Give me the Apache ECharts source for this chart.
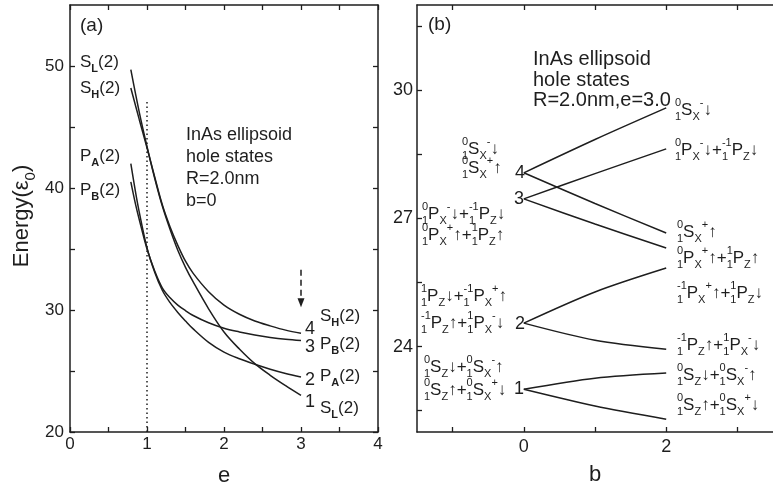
<!DOCTYPE html>
<html><head><meta charset="utf-8">
<script src="https://cdn.jsdelivr.net/npm/echarts@6/dist/echarts.min.js"></script>
<style>html,body{margin:0;padding:0;background:#fff}#c{width:773px;height:495px}</style>
</head><body><div id="c"></div><script>
// ---------- Panel (a): hole energies vs e (b = 0) ----------
const eTicks = [0, 0.5, 1, 1.5, 2, 2.5, 3, 3.5, 4];
const eLabels = [0, 1, 2, 3, 4];
const energyTicksA = [20, 25, 30, 35, 40, 45, 50];
const energyLabelsA = [20, 30, 40, 50];
const curveSL = [[0.79,49.7],[0.9,46.2],[1.0,43.4],[1.1,40.8],[1.2,38.5],[1.3,36.6],[1.4,34.9],[1.5,33.5],[1.6,32.3],[1.8,30.1],[2.0,28.2],[2.2,26.8],[2.4,25.6],[2.6,24.65],[2.8,23.8],[3.0,23.0]];
const curveSH = [[0.79,48.2],[0.9,45.6],[1.0,43.3],[1.1,40.9],[1.2,38.6],[1.3,36.8],[1.4,35.3],[1.5,34.0],[1.6,33.0],[1.8,31.5],[2.0,30.4],[2.2,29.65],[2.4,29.1],[2.6,28.7],[2.8,28.35],[3.0,28.1]];
const curvePA = [[0.79,42.0],[0.85,39.7],[0.9,38.0],[1.0,35.1],[1.1,33.1],[1.2,31.6],[1.3,30.6],[1.4,29.8],[1.5,29.1],[1.6,28.45],[1.8,27.35],[2.0,26.55],[2.2,26.0],[2.4,25.55],[2.6,25.15],[2.8,24.8],[3.0,24.5]];
const curvePB = [[0.79,40.5],[0.85,38.7],[0.9,37.4],[1.0,35.0],[1.1,33.2],[1.2,31.8],[1.3,31.0],[1.4,30.4],[1.5,29.95],[1.6,29.55],[1.8,28.95],[2.0,28.5],[2.2,28.2],[2.4,27.95],[2.6,27.75],[2.8,27.6],[3.0,27.5]];
const dottedE = [[1, 20], [1, 47.2]];
const arrowE = [[3, 33.3], [3, 30.6]];

// ---------- Panel (b): splitting vs b (R=2.0nm, e=3.0) ----------
const bTicks = [-1, 0, 1, 2, 3];
const bLabels = [0, 2];
const energyTicksB = [22.5, 24, 25.5, 27, 28.5, 30, 31.5];
const energyLabelsB = [24, 27, 30];
const bValues = [0, 1, 2];
const level4Up   = [28.07, 28.85, 29.59];
const level4Down = [28.07, 27.35, 26.66];
const level3Up   = [27.46, 28.05, 28.63];
const level3Down = [27.46, 26.87, 26.31];
const level2Up   = [24.55, 25.28, 25.84];
const level2Down = [24.55, 24.15, 23.94];
const level1Up   = [23.0, 23.26, 23.38];
const level1Down = [23.0, 22.61, 22.30];

const INK = '#1e1e1e';
const FAM = '"Liberation Sans", Arial, Helvetica, sans-serif';

// ---------- rich label builder (pre-scripts, sub, sup) ----------
const mctx = document.createElement('canvas').getContext('2d');
function tw(s, size, bold) { mctx.font = (bold ? 'bold ' : '') + size + 'px ' + FAM; return mctx.measureText(s).width; }
function parse(str) {
  const out = []; let i = 0;
  while (i < str.length) {
    const c = str[i];
    if (c === '{') { const j = str.indexOf('}', i); const p = str.slice(i + 1, j).split('|'); out.push({k:'pre', a:p[0], b:p[1]}); i = j + 1; }
    else if (c === '_' || c === '^') { let bold = false; i++; if (str[i] === '!') { bold = true; i++; } out.push({k: c === '_' ? 'sub' : 'sup', t: str[i], bold}); i++; }
    else { let j = i; while (j < str.length && '{_^'.indexOf(str[j]) < 0) j++; out.push({k:'n', t: str.slice(i, j)}); i = j; }
  }
  return out;
}
function richLabel(str, x, y, F, opt) {
  opt = opt || {};
  const f = Math.round(F * 0.66);
  const kids = []; let cx = 0;
  const add = (t, dx, dy, size, bold) => kids.push({type:'text', x:dx, y:dy, silent:true,
    style:{text:t, fontSize:size, fontFamily:FAM, fontWeight: bold ? 'bold' : 'normal', fill:INK,
      textAlign:'left', textVerticalAlign:'middle', align:'left', verticalAlign:'middle'}});
  for (const tk of parse(str)) {
    if (tk.k === 'n') { add(tk.t, cx, 0, F); cx += tw(tk.t, F); }
    else if (tk.k === 'sub') { add(tk.t, cx, F * 0.42, f, tk.bold); cx += tw(tk.t, f, tk.bold); }
    else if (tk.k === 'sup') { add(tk.t, cx, -F * 0.4, f, tk.bold); cx += tw(tk.t, f, tk.bold); }
    else { add(tk.a, cx, -F * 0.4, f); add(tk.b, cx, F * 0.42, f); cx += Math.max(tw(tk.a, f), tw(tk.b, f)); }
  }
  let shift = 0;
  if (opt.align === 'center') shift = -cx / 2;
  if (opt.align === 'right') shift = -cx;
  kids.forEach(k => k.x += shift);
  const g = {type:'group', x:x, y:y, children:kids, silent:true};
  if (opt.rotation) g.rotation = opt.rotation;
  return g;
}
function plain(t, x, y, size, align) {
  return {type:'text', x:x, y:y, silent:true, style:{text:t, fontSize:size, fontFamily:FAM, fill:INK,
    textAlign:align || 'left', textVerticalAlign:'middle', align:align || 'left', verticalAlign:'middle'}};
}

const graphics = [
  plain('(a)', 80, 26, 19),
  plain('(b)', 428, 25, 19),
  richLabel('Energy(ε_0)', 22, 216, 22, {rotation: Math.PI / 2, align:'center'}),
  // panel (a) left labels
  richLabel('S_!L(2)', 80, 62, 17),
  richLabel('S_!H(2)', 80, 88, 17),
  richLabel('P_!A(2)', 80, 156, 17),
  richLabel('P_!B(2)', 80, 190, 17),
  // panel (a) right labels
  plain('4', 305, 329, 18), plain('3', 305, 347, 18), plain('2', 305, 380, 18), plain('1', 305, 402, 18),
  richLabel('S_!H(2)', 320, 316, 17),
  richLabel('P_!B(2)', 320, 344, 17),
  richLabel('P_!A(2)', 320, 376, 17),
  richLabel('S_!L(2)', 320, 408, 17),
  // panel (a) annotation
  plain('InAs ellipsoid', 186, 135, 18), plain('hole states', 186, 157, 18),
  plain('R=2.0nm', 186, 179, 18), plain('b=0', 186, 201, 18),
  // panel (b) annotation
  plain('InAs ellipsoid', 533, 59, 20), plain('hole states', 533, 80, 20), plain('R=2.0nm,e=3.0', 533, 100, 20),
  // panel (b) level numbers
  plain('4', 525, 173, 18, 'right'), plain('3', 524, 199, 18, 'right'),
  plain('2', 525, 324, 18, 'right'), plain('1', 524, 389, 18, 'right'),
  // panel (b) left state labels
  richLabel('{0|1}S_X^-↓', 462, 149, 17),
  richLabel('{0|1}S_X^+↑', 462, 168, 17),
  richLabel('{0|1}P_X^-↓+{-1|1}P_Z↓', 422, 214, 17),
  richLabel('{0|1}P_X^+↑+{1|1}P_Z↑', 422, 235, 17),
  richLabel('{1|1}P_Z↓+{-1|1}P_X^+↑', 421, 296, 17),
  richLabel('{-1|1}P_Z↑+{1|1}P_X^-↓', 421, 323, 17),
  richLabel('{0|1}S_Z↓+{0|1}S_X^-↑', 424, 367, 17),
  richLabel('{0|1}S_Z↑+{0|1}S_X^+↓', 424, 390, 17),
  // panel (b) right state labels
  richLabel('{0|1}S_X^-↓', 675, 110, 17),
  richLabel('{0|1}P_X^-↓+{-1|1}P_Z↓', 675, 150, 17),
  richLabel('{0|1}S_X^+↑', 677, 232, 17),
  richLabel('{0|1}P_X^+↑+{1|1}P_Z↑', 677, 258, 17),
  richLabel('{-1|1}P_X^+↑+{1|1}P_Z↓', 677, 293, 17),
  richLabel('{-1|1}P_Z↑+{1|1}P_X^-↓', 677, 345, 17),
  richLabel('{0|1}S_Z↓+{0|1}S_X^-↑', 677, 375, 17),
  richLabel('{0|1}S_Z↑+{0|1}S_X^+↓', 677, 405, 17)
];

const lineW = 1.5;
const axisLine = {show:true, onZero:false, lineStyle:{color:INK, width:1.5}};
function tickCfg(vals) { return {show:true, inside:true, length:5, customValues:vals, lineStyle:{color:INK, width:1.3}}; }
function labCfg(vals, size, margin) { return {show:true, customValues:vals, color:INK, fontFamily:FAM, fontSize:size, margin:margin}; }
const noLab = {show:false};

function curve(data, xi, yi, smooth) {
  return {type:'line', xAxisIndex:xi, yAxisIndex:yi, data:data, showSymbol:false, symbol:'none',
    smooth:smooth, lineStyle:{color:INK, width:lineW}, silent:true, z:3};
}
function bCurve(vals) { return curve(bValues.map((b, i) => [b, vals[i]]), 2, 2, 0.3); }

const option = {
  animation:false,
  backgroundColor:'#ffffff',
  grid:[
    {left:70, top:5, width:308, height:427},
    {left:417, top:5, width:362, height:427}
  ],
  xAxis:[
    {type:'value', gridIndex:0, min:0, max:4, position:'bottom', axisLine:axisLine, splitLine:{show:false},
     axisTick:tickCfg(eTicks), axisLabel:labCfg(eLabels, 17, 4),
     name:'e', nameLocation:'middle', nameGap:33, nameTextStyle:{fontFamily:FAM, fontSize:22, color:INK, verticalAlign:'top'}},
    {type:'value', gridIndex:0, min:0, max:4, position:'top', axisLine:axisLine, splitLine:{show:false},
     axisTick:tickCfg(eTicks), axisLabel:noLab},
    {type:'value', gridIndex:1, min:-1.5, max:3.5, position:'bottom', axisLine:axisLine, splitLine:{show:false},
     axisTick:tickCfg(bTicks), axisLabel:labCfg(bLabels, 18, 6),
     name:'b', nameLocation:'middle', nameGap:32, nameTextStyle:{fontFamily:FAM, fontSize:22, color:INK, verticalAlign:'top'}},
    {type:'value', gridIndex:1, min:-1.5, max:3.5, position:'top', axisLine:axisLine, splitLine:{show:false},
     axisTick:tickCfg(bTicks), axisLabel:noLab}
  ],
  yAxis:[
    {type:'value', gridIndex:0, min:20, max:55, position:'left', axisLine:axisLine, splitLine:{show:false},
     axisTick:tickCfg(energyTicksA), axisLabel:labCfg(energyLabelsA, 17, 6)},
    {type:'value', gridIndex:0, min:20, max:55, position:'right', axisLine:axisLine, splitLine:{show:false},
     axisTick:tickCfg(energyTicksA), axisLabel:noLab},
    {type:'value', gridIndex:1, min:22, max:32, position:'left', axisLine:axisLine, splitLine:{show:false},
     axisTick:tickCfg(energyTicksB), axisLabel:labCfg(energyLabelsB, 18, 4)}
  ],
  series:[
    curve(curveSL, 0, 0, 0.35),
    curve(curveSH, 0, 0, 0.35),
    curve(curvePA, 0, 0, 0.35),
    curve(curvePB, 0, 0, 0.35),
    {type:'line', xAxisIndex:0, yAxisIndex:0, data:dottedE, symbol:'none', silent:true,
     lineStyle:{color:INK, width:1.5, type:[1.5, 3]}},
    {type:'line', xAxisIndex:0, yAxisIndex:0, data:[], symbol:'none', silent:true,
     markLine:{silent:true, symbol:['none', 'triangle'], symbolSize:[7, 9], label:{show:false},
       lineStyle:{color:INK, width:1.5, type:[6, 4]},
       data:[[{coord:arrowE[0]}, {coord:arrowE[1]}]]}},
    bCurve(level4Up), bCurve(level4Down), bCurve(level3Up), bCurve(level3Down),
    bCurve(level2Up), bCurve(level2Down), bCurve(level1Up), bCurve(level1Down)
  ],
  graphic: graphics
};
const chart = echarts.init(document.getElementById('c'), null, {renderer:'canvas'});
chart.setOption(option);
</script></body></html>
